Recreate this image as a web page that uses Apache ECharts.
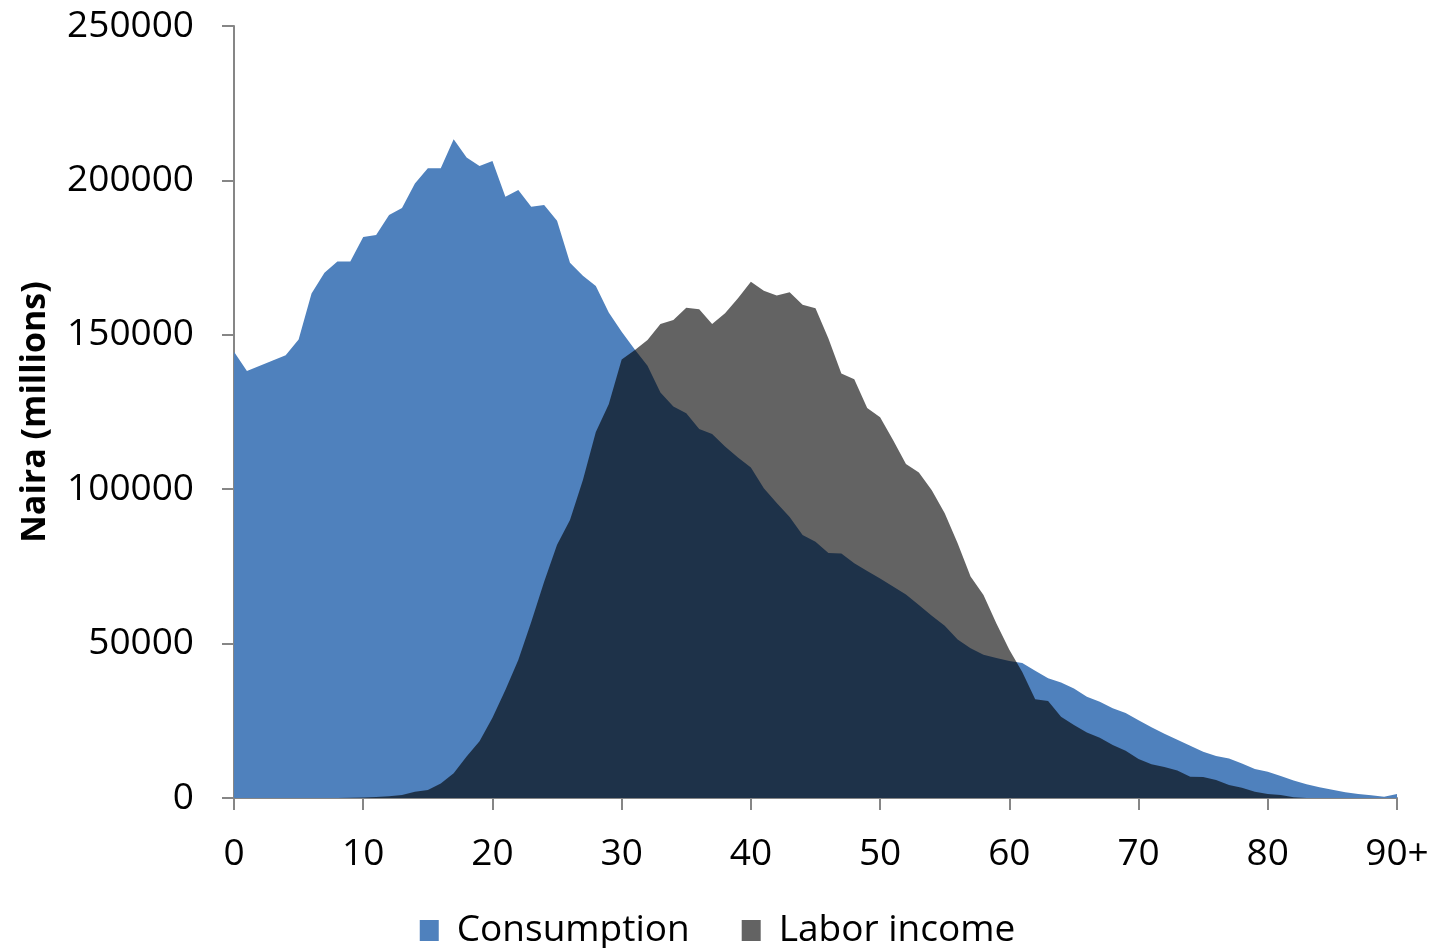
<!DOCTYPE html>
<html>
<head>
<meta charset="utf-8">
<script src="https://cdn.jsdelivr.net/npm/echarts@6/dist/echarts.min.js"></script>
<style>
html,body{margin:0;padding:0;background:#fff;}
#chart{width:1435px;height:948px;}
</style>
</head>
<body>
<div id="chart"></div>
<script>
const ages = ['0','1','2','3','4','5','6','7','8','9','10','11','12','13','14','15','16','17','18','19','20','21','22','23','24','25','26','27','28','29','30','31','32','33','34','35','36','37','38','39','40','41','42','43','44','45','46','47','48','49','50','51','52','53','54','55','56','57','58','59','60','61','62','63','64','65','66','67','68','69','70','71','72','73','74','75','76','77','78','79','80','81','82','83','84','85','86','87','88','89','90+'];

const consumption = [144500,138300,140000,141700,143400,148500,163400,170100,173700,173700,
181700,182300,188800,191100,199000,203900,203900,213300,207400,204700,
206300,194700,196900,191500,192000,186900,173300,169100,165800,157200,
151000,145300,140000,131300,126800,124600,119500,117900,113800,110300,
107000,100300,95500,91000,85200,83000,79300,79200,76000,73500,
71100,68500,65900,62500,59000,55800,51300,48500,46400,45300,
44400,43700,41200,38800,37400,35500,32800,31200,29100,27500,
25200,22900,20800,18900,16900,15000,13600,12800,11200,9400,
8500,7100,5700,4450,3500,2650,1900,1300,900,420,1300];

const laborIncome = [0,0,0,0,0,0,0,0,0,100,
200,350,600,950,2000,2600,4700,8000,13400,18400,
26000,35000,44700,57000,70000,82000,90000,103000,118500,127500,
142000,145000,148300,153500,154800,158800,158300,153500,157000,161800,
167200,164300,162700,163800,159700,158600,148800,137500,135600,126300,
123300,115900,108200,105400,99700,92200,82500,71700,65700,56500,
48000,40800,32000,31400,26300,23600,21200,19500,17200,15300,
12600,10900,10000,8900,6900,6800,5800,4200,3300,2000,
1300,950,250,0,0,0,0,0,0,0,0];

const seriesNames = ['Consumption', 'Labor income'];
const yTitle = 'Naira (millions)';

const chart = echarts.init(document.getElementById('chart'), null, {renderer: 'canvas'});
const font = '"Open Sans", "Liberation Sans", sans-serif';
const axisGray = '#868686';

chart.setOption({
  animation: false,
  backgroundColor: '#ffffff',
  grid: {left: 234, right: 38, top: 26, bottom: 150, containLabel: false},
  legend: {
    data: seriesNames,
    bottom: -6,
    left: 'center',
    icon: 'rect',
    itemWidth: 19,
    itemHeight: 21,
    itemGap: 52,
    textStyle: {fontFamily: font, fontSize: 37, color: '#000', padding: [0, 0, 0, 13]}
  },
  xAxis: {
    type: 'category',
    data: ages,
    boundaryGap: false,
    axisLine: {show: true, lineStyle: {color: axisGray, width: 2}},
    axisTick: {show: true, interval: 9, length: 12, lineStyle: {color: axisGray, width: 2}},
    axisLabel: {interval: 9, fontFamily: font, fontSize: 37, color: '#000', margin: 38},
    splitLine: {show: false}
  },
  yAxis: {
    type: 'value',
    min: 0,
    max: 250000,
    interval: 50000,
    name: yTitle,
    nameLocation: 'middle',
    nameGap: 182,
    nameRotate: 90,
    nameTextStyle: {fontFamily: font, fontSize: 34, fontWeight: 'bold', color: '#000'},
    axisLine: {show: true, lineStyle: {color: axisGray, width: 2}},
    axisTick: {show: true, length: 12, lineStyle: {color: axisGray, width: 2}},
    axisLabel: {fontFamily: font, fontSize: 37, color: '#000', margin: 40,
      formatter: function (v) { return String(v); }},
    splitLine: {show: false}
  },
  series: [
    {
      name: seriesNames[0],
      type: 'line',
      data: consumption,
      symbol: 'none',
      lineStyle: {width: 0},
      itemStyle: {color: '#4F81BD'},
      areaStyle: {color: '#4F81BD', opacity: 1}
    },
    {
      name: seriesNames[1],
      type: 'line',
      data: laborIncome,
      symbol: 'none',
      lineStyle: {width: 0},
      itemStyle: {color: 'rgba(0,0,0,0.61)'},
      areaStyle: {color: 'rgba(0,0,0,0.61)', opacity: 1}
    }
  ]
});
</script>
</body>
</html>
